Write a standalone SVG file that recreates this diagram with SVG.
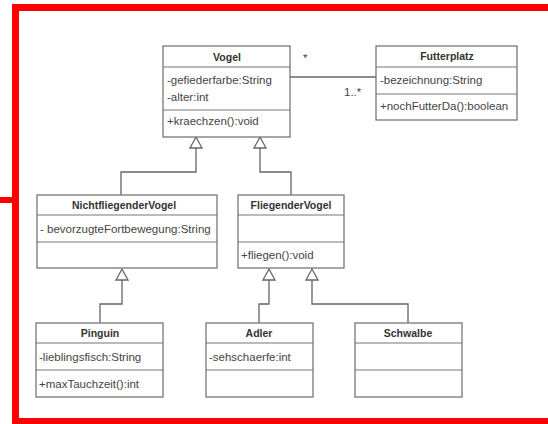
<svg xmlns="http://www.w3.org/2000/svg" width="548" height="424" viewBox="0 0 548 424">
<style>
.box{fill:#fff;stroke:#777;stroke-width:1.3}
.div{stroke:#777;stroke-width:1.2}
.t{font-family:"Liberation Sans",Arial,sans-serif;font-size:11.5px;fill:#444}
.h{font-family:"Liberation Sans",Arial,sans-serif;font-size:10.5px;font-weight:bold;fill:#333;text-anchor:middle}
.c{fill:none;stroke:#666;stroke-width:1.3}
.tri{fill:#fff;stroke:#666;stroke-width:1.3}
.red{fill:#ff0000}
</style>
<rect width="548" height="424" fill="#fff"/>
<g id="frame">
<rect class="red" x="12" y="4" width="536" height="7"/>
<rect class="red" x="12" y="4" width="7" height="420"/>
<rect class="red" x="12" y="418" width="536" height="6"/>
<rect class="red" x="0" y="197" width="12" height="6"/>
</g>
<g id="connectors">
<line class="c" x1="290" y1="77" x2="376" y2="77"/>
<text class="t" x="303" y="62">*</text>
<text class="t" x="344" y="96" font-size="9.5">1..*</text>
<polyline class="c" points="196,148 196,172 121,172 121,195"/>
<polygon class="tri" points="196,137 190,148 202,148"/>
<polyline class="c" points="260,148 260,172 291,172 291,195"/>
<polygon class="tri" points="260,137 254,148 266,148"/>
<polyline class="c" points="122,280 122,304 100,304 100,323"/>
<polygon class="tri" points="122,269 116,280 128,280"/>
<polyline class="c" points="269,280 269,304 259,304 259,323"/>
<polygon class="tri" points="269,269 263,280 275,280"/>
<polyline class="c" points="312,280 312,304 408,304 408,323"/>
<polygon class="tri" points="312,269 306,280 318,280"/>
</g>
<g id="Vogel">
<rect class="box" x="163" y="46" width="127" height="91"/>
<line class="div" x1="163" y1="67" x2="290" y2="67"/>
<line class="div" x1="163" y1="110" x2="290" y2="110"/>
<text class="h" x="227" y="61">Vogel</text>
<text class="t" x="167" y="84">-gefiederfarbe:String</text>
<text class="t" x="167" y="101">-alter:int</text>
<text class="t" x="167" y="125">+kraechzen():void</text>
</g>
<g id="Futterplatz">
<rect class="box" x="376" y="46" width="141" height="74"/>
<line class="div" x1="376" y1="67" x2="517" y2="67"/>
<line class="div" x1="376" y1="94" x2="517" y2="94"/>
<text class="h" x="447" y="60">Futterplatz</text>
<text class="t" x="380" y="84">-bezeichnung:String</text>
<text class="t" x="380" y="110">+nochFutterDa():boolean</text>
</g>
<g id="NichtfliegenderVogel">
<rect class="box" x="37" y="195" width="180" height="73"/>
<line class="div" x1="37" y1="215" x2="217" y2="215"/>
<line class="div" x1="37" y1="242" x2="217" y2="242"/>
<text class="h" x="124" y="209">NichtfliegenderVogel</text>
<text class="t" x="40" y="233">- bevorzugteFortbewegung:String</text>
</g>
<g id="FliegenderVogel">
<rect class="box" x="238" y="195" width="106" height="73"/>
<line class="div" x1="238" y1="215" x2="344" y2="215"/>
<line class="div" x1="238" y1="242" x2="344" y2="242"/>
<text class="h" x="291" y="209">FliegenderVogel</text>
<text class="t" x="241" y="259">+fliegen():void</text>
</g>
<g id="Pinguin">
<rect class="box" x="36" y="323" width="127" height="74"/>
<line class="div" x1="36" y1="343" x2="163" y2="343"/>
<line class="div" x1="36" y1="370" x2="163" y2="370"/>
<text class="h" x="100" y="337">Pinguin</text>
<text class="t" x="39" y="361">-lieblingsfisch:String</text>
<text class="t" x="39" y="388">+maxTauchzeit():int</text>
</g>
<g id="Adler">
<rect class="box" x="206" y="323" width="107" height="74"/>
<line class="div" x1="206" y1="343" x2="313" y2="343"/>
<line class="div" x1="206" y1="370" x2="313" y2="370"/>
<text class="h" x="259" y="337">Adler</text>
<text class="t" x="209" y="361">-sehschaerfe:int</text>
</g>
<g id="Schwalbe">
<rect class="box" x="355" y="323" width="107" height="74"/>
<line class="div" x1="355" y1="343" x2="462" y2="343"/>
<line class="div" x1="355" y1="370" x2="462" y2="370"/>
<text class="h" x="408" y="337">Schwalbe</text>
</g>
</svg>
